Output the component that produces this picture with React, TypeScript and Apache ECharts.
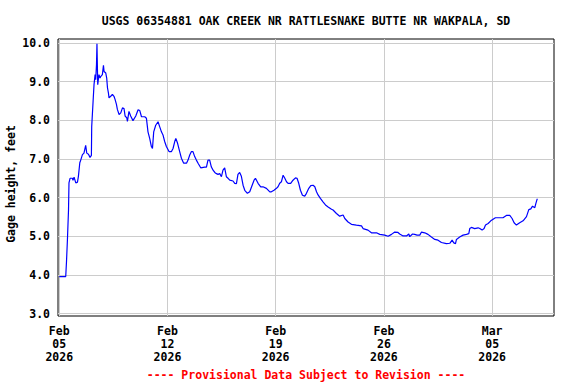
import React, { useEffect, useRef } from "react";
import * as echarts from "echarts";

const TITLE = "USGS 06354881 OAK CREEK NR RATTLESNAKE BUTTE NR WAKPALA, SD";
const Y_NAME = "Gage height, feet";
const FOOTER = "---- Provisional Data Subject to Revision ----";
const START_YEAR = 2026;
const START_MONTH = 1; // February (0-based)
const START_DAY = 5;
const MONTHS = ["Jan", "Feb", "Mar", "Apr", "May", "Jun", "Jul", "Aug", "Sep", "Oct", "Nov", "Dec"];
const xTickDays = [0, 7, 14, 21, 28];
const yTicks = [3, 4, 5, 6, 7, 8, 9, 10];

// days since Feb 05 2026 00:00
const dayOffsets = [
  0.0, 0.42, 0.47, 0.53, 0.6, 0.63, 0.7, 0.85, 0.89, 0.96, 1.07, 1.18, 1.24, 1.33, 1.39, 1.5,
  1.6, 1.67, 1.71, 1.78, 1.89, 1.99, 2.08, 2.1, 2.19, 2.25, 2.32, 2.36, 2.41, 2.44, 2.49, 2.54,
  2.57, 2.64, 2.68, 2.79, 2.86, 2.9, 3.01, 3.07, 3.12, 3.18, 3.22, 3.33, 3.44, 3.54, 3.61, 3.7,
  3.76, 3.87, 3.98, 4.09, 4.19, 4.26, 4.37, 4.41, 4.51, 4.62, 4.77, 4.95, 5.1, 5.21, 5.32, 5.53,
  5.64, 5.74, 5.85, 5.96, 6.03, 6.11, 6.24, 6.39, 6.5, 6.61, 6.71, 6.82, 6.93, 7.1, 7.26, 7.36,
  7.47, 7.54, 7.65, 7.79, 7.9, 8.05, 8.23, 8.33, 8.44, 8.55, 8.65, 8.76, 8.87, 8.98, 9.15, 9.41,
  9.52, 9.62, 9.73, 9.84, 9.95, 10.06, 10.17, 10.27, 10.38, 10.49, 10.59, 10.7, 10.81, 10.92,
  11.03, 11.24, 11.35, 11.46, 11.56, 11.67, 11.78, 11.89, 12.0, 12.17, 12.32, 12.43, 12.6, 12.69,
  12.86, 13.03, 13.18, 13.4, 13.62, 13.72, 13.89, 14.05, 14.15, 14.26, 14.37, 14.48, 14.59, 14.7,
  14.8, 14.97, 15.12, 15.28, 15.38, 15.49, 15.6, 15.73, 15.88, 15.99, 16.14, 16.27, 16.42, 16.53,
  16.64, 16.74, 16.89, 17.06, 17.22, 17.39, 17.61, 17.71, 17.93, 18.14, 18.36, 18.47, 18.68, 18.9,
  19.22, 19.55, 19.65, 19.97, 20.19, 20.52, 20.73, 21.05, 21.27, 21.49, 21.7, 21.91, 22.02, 22.24,
  22.46, 22.61, 22.67, 22.85, 22.99, 23.14, 23.32, 23.43, 23.64, 23.85, 24.07, 24.29, 24.5, 24.72,
  25.04, 25.26, 25.41, 25.52, 25.63, 25.69, 25.9, 26.12, 26.34, 26.49, 26.55, 26.66, 26.87, 27.09,
  27.2, 27.35, 27.48, 27.57, 27.74, 27.91, 28.06, 28.21, 28.49, 28.7, 28.92, 29.14, 29.29, 29.42,
  29.57, 29.78, 30.0, 30.22, 30.37, 30.5, 30.61, 30.76, 30.82, 30.9, 30.93,
];

// gage height, feet
const gageHeights = [
  3.96, 3.96, 4.35, 4.91, 5.68, 6.38, 6.5, 6.5, 6.45, 6.53, 6.38, 6.4, 6.55, 6.9, 6.97, 7.11,
  7.15, 7.28, 7.35, 7.15, 7.12, 7.04, 7.09, 7.84, 8.49, 8.92, 9.18, 9.05, 9.44, 9.98, 8.92, 9.09,
  9.18, 9.09, 9.13, 9.18, 9.42, 9.26, 9.22, 9.09, 8.84, 8.71, 8.58, 8.62, 8.67, 8.62, 8.54, 8.41,
  8.28, 8.15, 8.19, 8.32, 8.3, 8.11, 8.06, 7.97, 8.23, 8.11, 7.99, 8.11, 8.27, 8.25, 8.09, 8.09,
  8.05, 7.7, 7.53, 7.32, 7.27, 7.7, 7.87, 7.96, 7.83, 7.7, 7.62, 7.45, 7.32, 7.19, 7.19, 7.27,
  7.45, 7.53, 7.41, 7.19, 7.02, 6.89, 6.89, 6.97, 7.1, 7.19, 7.19, 7.06, 6.97, 6.89, 6.77, 6.79,
  6.79, 6.97, 6.97, 6.79, 6.71, 6.65, 6.62, 6.6, 6.62, 6.54, 6.71, 6.77, 6.54, 6.5,
  6.45, 6.43, 6.37, 6.36, 6.6, 6.65, 6.55, 6.32, 6.19, 6.11, 6.15, 6.27, 6.45, 6.5,
  6.37, 6.28, 6.28, 6.24, 6.15, 6.15, 6.19, 6.24, 6.28, 6.37, 6.41, 6.58, 6.5, 6.41,
  6.37, 6.37, 6.45, 6.51, 6.5, 6.37, 6.19, 6.06, 6.04, 6.11, 6.24, 6.31, 6.32, 6.28,
  6.15, 6.07, 5.98, 5.89, 5.81, 5.76, 5.7, 5.68, 5.59, 5.52, 5.55, 5.46, 5.37, 5.31,
  5.29, 5.27, 5.2, 5.16, 5.09, 5.09, 5.05, 5.03, 5.0, 5.05, 5.11, 5.1, 5.06, 5.01,
  5.01, 5.06, 4.99, 5.06, 5.05, 5.03, 5.03, 5.11, 5.09, 5.05, 4.98, 4.92, 4.9, 4.84,
  4.81, 4.82, 4.9, 4.83, 4.81, 4.92, 4.98, 5.03, 5.05, 5.07, 5.2, 5.23, 5.2, 5.22,
  5.2, 5.16, 5.2, 5.29, 5.33, 5.4, 5.44, 5.48, 5.48, 5.48, 5.54, 5.54, 5.46, 5.35,
  5.29, 5.35, 5.4, 5.51, 5.69, 5.71, 5.78, 5.74, 5.84, 5.95, 5.97,
];

const FONT = "'DejaVu Sans Mono', 'Liberation Mono', monospace";

function dayLabel(v: number): string {
  const d = new Date(Date.UTC(START_YEAR, START_MONTH, START_DAY + Math.round(v)));
  const dd = String(d.getUTCDate()).padStart(2, "0");
  return MONTHS[d.getUTCMonth()] + "\n" + dd + "\n" + d.getUTCFullYear();
}

export default function App() {
  const ref = useRef<HTMLDivElement>(null);
  useEffect(() => {
    if (!ref.current) return;
    const chart = echarts.init(ref.current, undefined, { renderer: "svg" });
    const data = dayOffsets.map((d, i) => [d, gageHeights[i]]);
    chart.setOption({
      animation: false,
      backgroundColor: "#FFFFFF",
      grid: {
        left: 58,
        top: 39,
        width: 496,
        height: 277,
        show: true,
        borderColor: "#000000",
        borderWidth: 1,
        backgroundColor: "transparent",
      },
      xAxis: {
        type: "value",
        min: -0.08,
        max: 32,
        axisLine: { show: false },
        axisTick: { show: false, customValues: xTickDays },
        splitLine: { show: true, lineStyle: { color: "#CCCCCC", width: 1 } },
        axisLabel: {
          customValues: xTickDays,
          formatter: (v: number) => dayLabel(v),
          fontFamily: FONT,
          fontWeight: "bold",
          fontSize: 11.5,
          lineHeight: 13,
          color: "#000000",
          margin: 8,
        },
      },
      yAxis: {
        type: "value",
        min: 2.94,
        max: 10.1,
        axisLine: { show: false },
        axisTick: { show: false, customValues: yTicks },
        splitLine: { show: true, lineStyle: { color: "#CCCCCC", width: 1 } },
        axisLabel: {
          customValues: yTicks,
          formatter: (v: number) => v.toFixed(1),
          fontFamily: FONT,
          fontWeight: "bold",
          fontSize: 11.5,
          color: "#000000",
          margin: 8,
        },
      },
      graphic: [
        {
          type: "text",
          x: 306,
          y: 21,
          style: {
            text: TITLE,
            fontFamily: FONT,
            fontWeight: "bold",
            fontSize: 11.5,
            fill: "#000000",
            textAlign: "center",
            textVerticalAlign: "middle",
          },
        },
        {
          type: "text",
          x: 11,
          y: 184,
          rotation: Math.PI / 2,
          style: {
            text: Y_NAME,
            fontFamily: FONT,
            fontWeight: "bold",
            fontSize: 11.5,
            fill: "#000000",
            textAlign: "center",
            textVerticalAlign: "middle",
          },
        },
        {
          type: "text",
          x: 306,
          y: 375,
          style: {
            text: FOOTER,
            fontFamily: FONT,
            fontWeight: "bold",
            fontSize: 11.5,
            fill: "#FF0000",
            textAlign: "center",
            textVerticalAlign: "middle",
          },
        },
      ],
      series: [
        {
          type: "line",
          data,
          showSymbol: false,
          symbol: "none",
          lineStyle: { color: "#0000FF", width: 1.2 },
          itemStyle: { color: "#0000FF" },
          z: 3,
        },
      ],
    });
    return () => chart.dispose();
  }, []);
  return (
    <div
      ref={ref}
      style={{ position: "fixed", left: 0, top: 0, width: 576, height: 384, background: "#fff" }}
    />
  );
}
